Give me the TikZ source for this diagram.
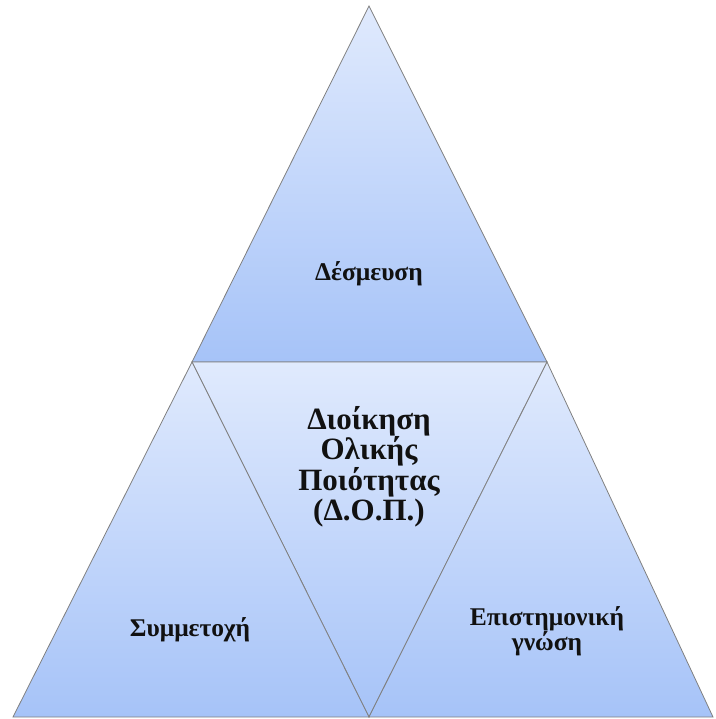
\documentclass[tikz,border=0pt]{standalone}
\usepackage{fontspec}
\setmainfont{Liberation Serif}
\usetikzlibrary{positioning,calc}
\definecolor{paleblue}{HTML}{E0EAFD}
\definecolor{midblue}{HTML}{A6C3F8}
\definecolor{edge}{HTML}{808080}
\definecolor{ink}{HTML}{111111}
\tikzset{
  tri/.style={top color=paleblue,bottom color=midblue,draw=edge,line width=0.8pt,line join=miter},
  lbl/.style={text=ink,align=center,font=\fontsize{25.5}{25}\selectfont\bfseries,inner sep=1pt},
  biglbl/.style={lbl,font=\fontsize{31}{30.5}\selectfont\bfseries},
}
\begin{document}
\begin{tikzpicture}[x=1pt,y=-1pt]
\useasboundingbox (0,0) rectangle (715,719);
% corners
\coordinate (apex) at (369,6);
\coordinate (ml) at (192,362);
\coordinate (mr) at (547,362);
\coordinate (bl) at (13,717);
\coordinate (bc) at (369,717);
\coordinate (br) at (713,717);
% four triangles
\path[tri](apex)--(ml)--(mr)--cycle;
\path[tri](ml)--(mr)--(bc)--cycle;
\path[tri](ml)--(bl)--(bc)--cycle;
\path[tri](mr)--(bc)--(br)--cycle;
% labels
\node[lbl] (top) at (369,274){Δέσμευση};
\node[biglbl] (dop) at (369,467){Διοίκηση\\Ολικής\\Ποιότητας\\(Δ.Ο.Π.)};
\node[lbl] (left) at (190,630){Συμμετοχή};
\node[lbl] (right) at (547,631){Επιστημονική\\γνώση};
\end{tikzpicture}
\end{document}
